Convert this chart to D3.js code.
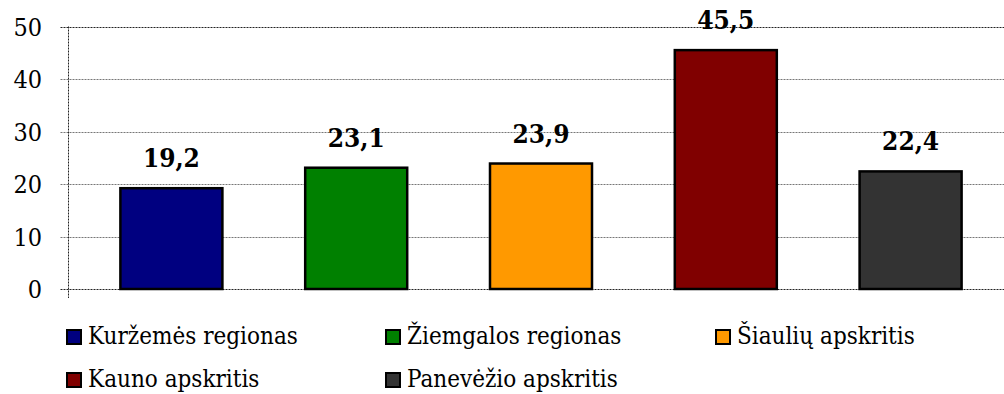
<!DOCTYPE html>
<html>
<head>
<meta charset="utf-8">
<script src="https://cdn.jsdelivr.net/npm/d3@7"></script>
<style>
  html, body { margin: 0; padding: 0; background: #fff; }
  svg { display: block; }
</style>
</head>
<body>
<svg id="chart" width="1004" height="394"></svg>
<script>
// Regions / counties and their values
const categories = ["Kuržemės regionas", "Žiemgalos regionas", "Šiaulių apskritis", "Kauno apskritis", "Panevėžio apskritis"];
const values = [19.2, 23.1, 23.9, 45.5, 22.4];
const colors = ["#000080", "#008000", "#FF9900", "#800000", "#333333"];
const yTicks = [0, 10, 20, 30, 40, 50];

const FONT = "'DejaVu Serif Condensed', 'DejaVu Serif'";

const svg = d3.select("#chart");
const plot = { left: 68.5, top: 26.5, bottom: 289, right: 1004 };

const y = d3.scaleLinear().domain([0, 50]).range([plot.bottom, plot.top]);
const x = d3.scaleBand().domain(categories).range([79, 1003])
  .paddingInner(0.448).paddingOuter(0.224);

const fmt = v => d3.format(".1f")(v).replace(".", ",");

// Horizontal gridlines
svg.append("g").selectAll("line").data(yTicks).join("line")
  .attr("x1", plot.left - 8).attr("x2", plot.right)
  .attr("y1", d => Math.round(y(d)) + 0.5).attr("y2", d => Math.round(y(d)) + 0.5)
  .attr("stroke", d => (d === 0 || d === 50) ? "#222" : "#777")
  .attr("stroke-width", 1)
  .attr("stroke-dasharray", "2,1");

// Vertical axis line
svg.append("line")
  .attr("x1", plot.left).attr("x2", plot.left)
  .attr("y1", plot.top).attr("y2", plot.bottom + 9)
  .attr("stroke", "#222").attr("stroke-dasharray", "2,1");

// Y axis labels
svg.append("g").selectAll("text").data(yTicks).join("text")
  .attr("x", 42).attr("y", d => y(d) + 9)
  .attr("text-anchor", "end")
  .style("font-family", FONT).style("font-stretch", "condensed")
  .attr("font-size", 25)
  .text(d => d);

// Bars
svg.append("g").selectAll("rect").data(values).join("rect")
  .attr("x", (d, i) => x(categories[i]))
  .attr("y", d => y(d))
  .attr("width", x.bandwidth())
  .attr("height", d => y(0) - y(d))
  .attr("fill", (d, i) => colors[i])
  .attr("stroke", "#000")
  .attr("stroke-width", 2.5);

// Value labels
svg.append("g").selectAll("text").data(values).join("text")
  .attr("x", (d, i) => x(categories[i]) + x.bandwidth() / 2)
  .attr("y", d => y(d) - 21)
  .attr("text-anchor", "middle")
  .style("font-family", FONT).style("font-stretch", "condensed")
  .attr("font-size", 26)
  .attr("font-weight", "bold")
  .text(d => fmt(d));

// Legend
const legendPos = [[66, 344], [385, 344], [715, 344], [66, 387], [385, 387]];
const lg = svg.append("g").selectAll("g").data(categories).join("g")
  .attr("transform", (d, i) => `translate(${legendPos[i][0]},${legendPos[i][1]})`);
lg.append("rect")
  .attr("x", 1).attr("y", -14).attr("width", 14).attr("height", 14)
  .attr("fill", (d, i) => colors[i])
  .attr("stroke", "#000").attr("stroke-width", 2);
lg.append("text")
  .attr("x", 22).attr("y", 0)
  .style("font-family", FONT).style("font-stretch", "condensed")
  .attr("font-size", 24)
  .text(d => d);
</script>
</body>
</html>
